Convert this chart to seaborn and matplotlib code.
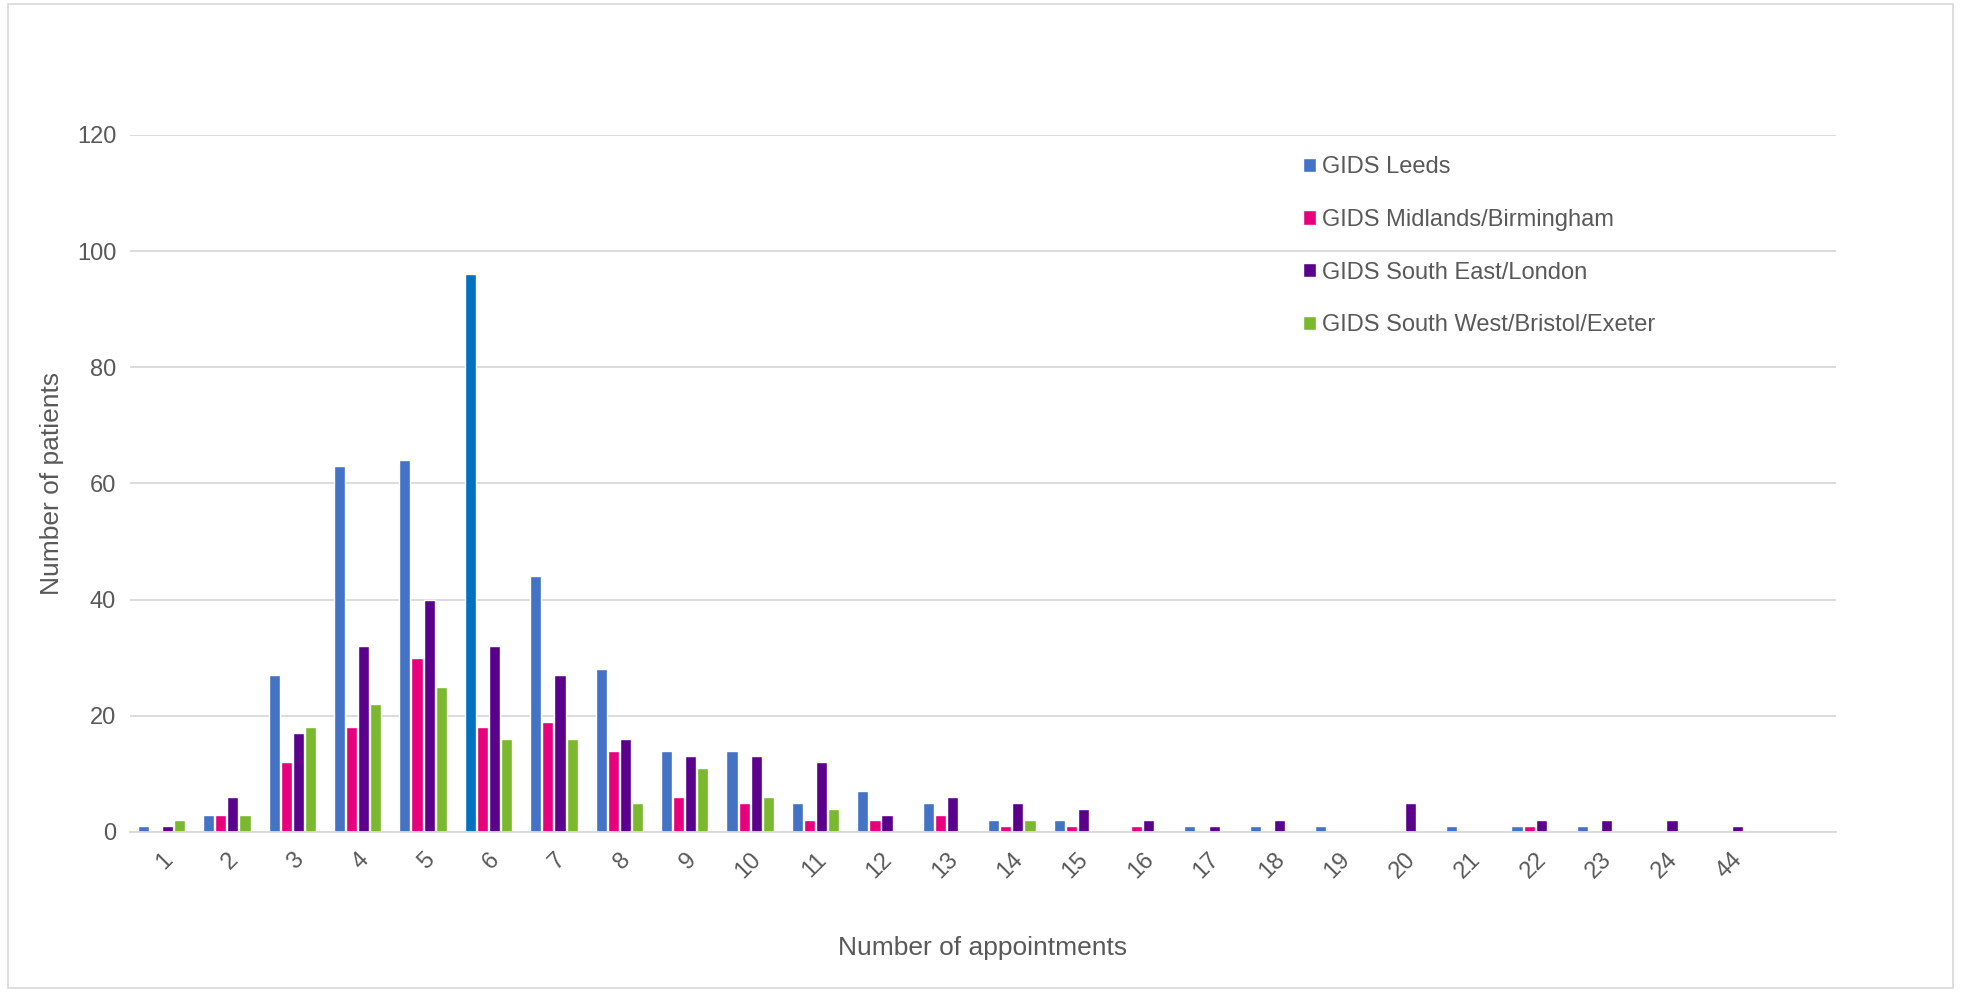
import pandas as pd
import matplotlib
matplotlib.use("Agg")
import matplotlib.pyplot as plt
import seaborn as sns
from matplotlib.patches import Rectangle

# Number of appointments (x categories)
appointments = ['1', '2', '3', '4', '5', '6', '7', '8', '9', '10', '11', '12', '13',
                '14', '15', '16', '17', '18', '19', '20', '21', '22', '23', '24', '44']

leeds      = [1, 3, 27, 63, 64, 96, 44, 28, 14, 14, 5, 7, 5, 2, 2, 0, 1, 1, 1, 0, 1, 1, 1, 0, 0]
midlands   = [0, 3, 12, 18, 30, 18, 19, 14, 6, 5, 2, 2, 3, 1, 1, 1, 0, 0, 0, 0, 0, 1, 0, 0, 0]
south_east = [1, 6, 17, 32, 40, 32, 27, 16, 13, 13, 12, 3, 6, 5, 4, 2, 1, 2, 0, 5, 0, 2, 2, 2, 1]
south_west = [2, 3, 18, 22, 25, 16, 16, 5, 11, 6, 4, 0, 0, 2, 0, 0, 0, 0, 0, 0, 0, 0, 0, 0, 0]

services = ['GIDS Leeds', 'GIDS Midlands/Birmingham', 'GIDS South East/London',
            'GIDS South West/Bristol/Exeter']
colours = ['#4472C4', '#E6007E', '#5A008C', '#7AB82E']

rows = []
for name, vals in zip(services, [leeds, midlands, south_east, south_west]):
    for a, v in zip(appointments, vals):
        rows.append({'appointments': a, 'patients': v, 'service': name})
df = pd.DataFrame(rows)

sns.set_style("white")
plt.rcParams['font.family'] = ['Liberation Sans', 'DejaVu Sans']
txt = '#595959'

fig = plt.figure(figsize=(19.61, 9.92), dpi=100)
ax = fig.add_axes([0.0663, 0.1613, 0.8700, 0.7027])

sns.barplot(data=df, x='appointments', y='patients', hue='service',
            order=appointments, hue_order=services, palette=colours,
            saturation=1, width=0.74, gap=0.08, ax=ax, legend=True)

# the highlighted 6-appointments Leeds bar is a slightly different blue
ax.containers[0][5].set_facecolor('#0070C0')

ax.set_ylim(0, 120)
ax.set_xlim(-0.48, 25.6)
ax.set_yticks(range(0, 121, 20))
ax.grid(axis='y', color='#D9D9D9', linewidth=1.3)
ax.set_axisbelow(True)
for s in ['top', 'right', 'left']:
    ax.spines[s].set_visible(False)
ax.spines['bottom'].set_color('#D9D9D9')
ax.spines['bottom'].set_linewidth(1.3)
ax.tick_params(axis='both', length=0, labelsize=17, colors=txt)
ax.tick_params(axis='x', pad=12)
ax.tick_params(axis='y', pad=10)
plt.setp(ax.get_xticklabels(), rotation=45, ha='right', rotation_mode='anchor')

ax.set_xlabel('Number of appointments', fontsize=19, color=txt, labelpad=38)
ax.set_ylabel('Number of patients', fontsize=19, color=txt, labelpad=9)

ax.legend(loc='upper left', bbox_to_anchor=(0.675, 1.0), frameon=False,
          fontsize=17, labelcolor=txt, handlelength=0.55, handleheight=0.55,
          handletextpad=0.25, labelspacing=1.3)

fig.patches.append(Rectangle((0.004, 0.004), 0.992, 0.992, transform=fig.transFigure,
                             fill=False, edgecolor='#D9D9D9', linewidth=1.2))

plt.savefig('out.png', dpi=100)
